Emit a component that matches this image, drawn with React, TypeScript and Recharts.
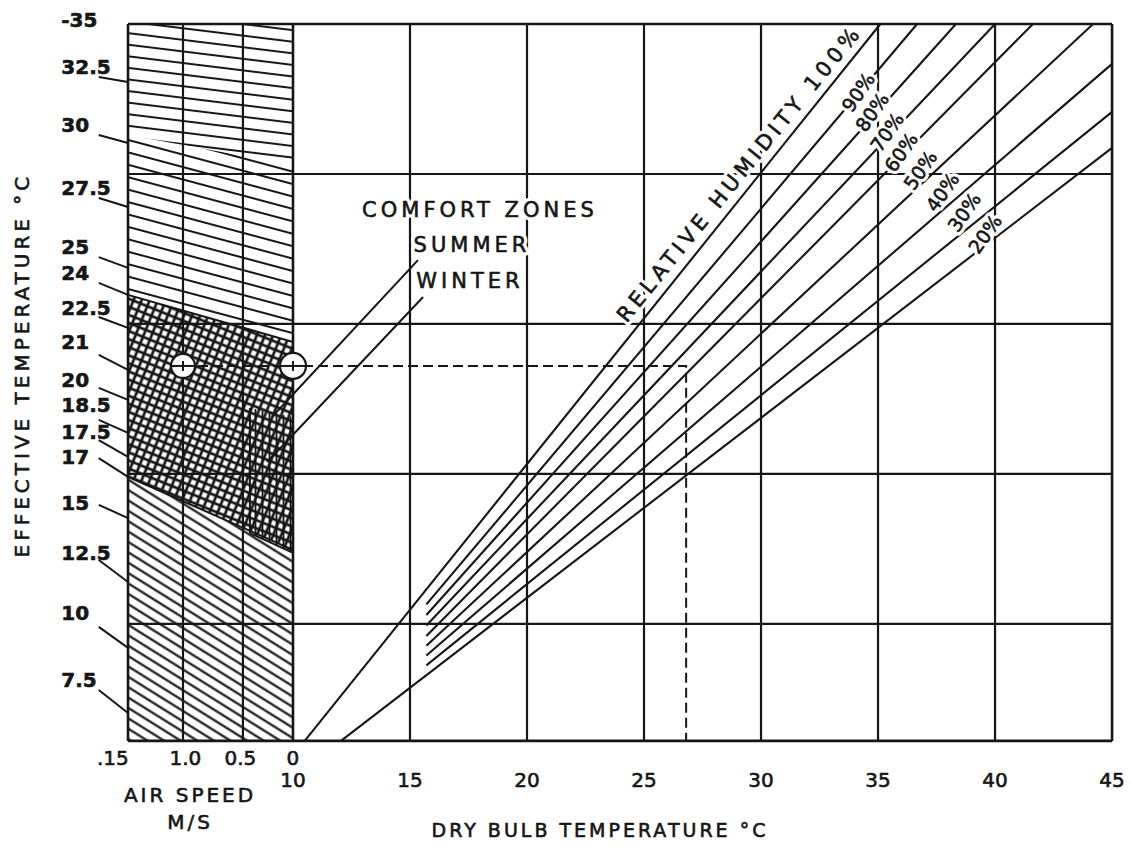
import React from 'react';
import {
  ComposedChart,
  XAxis,
  YAxis,
  Line,
  Area,
  Scatter,
  ReferenceLine,
  ReferenceDot,
} from 'recharts';

const WIDTH = 1131;
const HEIGHT = 848;
const INK = '#161616';
const FONT = '"DejaVu Sans", "Noto Sans", sans-serif';

// x runs in dry bulb °C (the air speed panel is laid on 2.95..10),
// y runs in effective temperature °C (still air). The plot fills the whole picture.
const X_DOMAIN: [number, number] = [-2.52, 45.81];
const Y_DOMAIN: [number, number] = [7.53, 35.8];

const ET_TOP = 35;
const ET_BOTTOM = 11.1;
const DB_MAX = 45;

// air speed panel
const PANEL_EDGES = [2.95, 10]; // 1.5 m/s and 0 m/s
const AIR_SPEED_GRID = [5.3, 7.86]; // 1.0 and 0.5 m/s
const AIR_SPEED_LABELS = ['.15', '1.0', '0.5', '0'];
const AIR_SPEED_LABEL_X = [2.3, 5.4, 7.75, 10];

// dry bulb panel
const DB_GRID = [15, 20, 25, 30, 35, 40];
const DB_TICKS = [10, 15, 20, 25, 30, 35, 40, 45];
const ET_GRID = [30, 25, 20, 15];

// effective temperature scale on the left, with leader lines to the panel edge
const ET_LABELS = ['-35', '32.5', '30', '27.5', '25', '24', '22.5', '21', '20', '18.5', '17.5', '17', '15', '12.5', '10', '7.5'];
const ET_LABEL_Y = [35.13, 33.57, 31.63, 29.53, 27.57, 26.7, 25.53, 24.4, 23.13, 22.3, 21.4, 20.57, 19.03, 17.37, 15.37, 13.13];
const LEADER_FROM_Y = [null, 33.23, 31.3, 29.2, 27.23, 26.37, 25.23, 23.97, 22.87, 21.8, 21.13, 20.53, 18.97, 17.13, 14.9, 12.8];
const LEADER_TO_Y = [null, 33.07, 31.03, 28.9, 26.87, 25.97, 24.87, 23.47, 22.47, 21.37, 20.57, 19.9, 18.53, 16.4, 14.2, 12.03];
const LEADER_FROM_X = 1.7;

// hatched zones of the air speed panel (values at the left and right panel edges)
const UPPER_SPLIT = [31.3, 30.3];
const SUMMER_TOP = [25.97, 24.4];
const SUMMER_BOTTOM = [19.9, 17.47];
const WINTER_EDGES = [8.16, 10];
const WINTER_TOP = [22.2, 21.9];
const WINTER_BOTTOM = [18.03, 17.37];

// relative humidity lines
const RH_LABELS = ['100%', '90%', '80%', '70%', '60%', '50%', '40%', '30%', '20%'];
const RH_START_DB = [10.5, 15.7, 15.7, 15.7, 15.7, 15.7, 15.7, 15.7, 12.05];
const RH_START_ET = [11.1, 15.65, 15.3, 14.95, 14.6, 14.27, 13.95, 13.62, 11.1];
const RH_END_DB = [35.1, 36.67, 38.33, 40.0, 41.62, 44.19, 45, 45, 45];
const RH_END_ET = [35, 35, 35, 35, 35, 35, 33.67, 32.07, 30.87];
const RH_LABEL_DB = [null, 34.15, 34.74, 35.38, 35.98, 36.8, 37.74, 38.68, 39.57];
const RH_LABEL_ET = [null, 32.73, 32.07, 31.4, 30.73, 30.13, 29.4, 28.73, 28.0];

// worked example
const EXAMPLE_ET = 23.6;
const EXAMPLE_SPEED_X = 5.3;
const EXAMPLE_DB = 26.8;

const SUMMER_LEADER = [{ x: 9.1, y: 21.9 }, { x: 15.34, y: 27.13 }];
const WINTER_LEADER = [{ x: 8.9, y: 20.4 }, { x: 15.56, y: 25.9 }];

const NOTES_ZONES = [
  { x: 17.99, y: 28.8, label: 'COMFORT ZONES' },
  { x: 17.65, y: 27.63, label: 'SUMMER' },
  { x: 17.56, y: 26.43, label: 'WINTER' },
];
const RH_TITLE = [{ x: 29.08, y: 30.02, label: 'RELATIVE HUMIDITY 100%' }];
const AIR_SPEED_TITLE = [
  { x: 5.6, y: 9.3, label: 'AIR SPEED' },
  { x: 5.6, y: 8.4, label: 'M/S' },
];
const DB_TITLE = [{ x: 23.12, y: 8.13, label: 'DRY BULB TEMPERATURE °C' }];
const ET_TITLE = [{ x: -1.58, y: 23.63, label: 'EFFECTIVE  TEMPERATURE  °C' }];
const AIR_SPEED_TICK_Y = 10.53;
const DB_TICK_Y = 9.8;

const seg = (x1: number, y1: number, x2: number, y2: number) => [
  { x: x1, y: y1 },
  { x: x2, y: y2 },
];

const band = (lo: number[], hi: number[], xs: number[] = PANEL_EDGES) =>
  xs.map((x, i) => ({ x, r: [lo[i], hi[i]] }));

interface TextOpts {
  size: number;
  weight?: string | number;
  anchor?: string;
  rotate?: number;
  spacing?: number;
  halo?: boolean;
}

// scanned lettering is heavy, so the glyphs get a thin ink outline
function textShape(o: TextOpts) {
  return (p: any) => {
    const { cx, cy, payload } = p;
    const common = {
      x: cx,
      y: cy,
      fontSize: o.size,
      fontWeight: o.weight ?? 'normal',
      fontFamily: FONT,
      textAnchor: o.anchor ?? 'middle',
      dominantBaseline: 'central',
      letterSpacing: o.spacing ?? 0,
      transform: o.rotate ? `rotate(${o.rotate} ${cx} ${cy})` : undefined,
      strokeLinejoin: 'round' as const,
    };
    return (
      <g>
        {o.halo && (
          <text {...(common as any)} fill="#fff" stroke="#fff" strokeWidth={7}>
            {payload.label}
          </text>
        )}
        <text {...(common as any)} fill={INK} stroke={INK} strokeWidth={0.6}>
          {payload.label}
        </text>
      </g>
    );
  };
}

const ringShape = (p: any) => (
  <g>
    <circle cx={p.cx} cy={p.cy} r={p.r} fill="#fff" stroke={INK} strokeWidth={2.2} />
    <line x1={p.cx - p.r} y1={p.cy} x2={p.cx + p.r} y2={p.cy} stroke={INK} strokeWidth={2} />
    <line x1={p.cx} y1={p.cy - 5} x2={p.cx} y2={p.cy + 5} stroke={INK} strokeWidth={2} />
  </g>
);

export default function App() {
  const etLabelData = ET_LABELS.map((label, i) => ({ x: 0.1, y: ET_LABEL_Y[i], label }));
  const speedTickData = AIR_SPEED_LABELS.map((label, i) => ({ x: AIR_SPEED_LABEL_X[i], y: AIR_SPEED_TICK_Y, label }));
  const dbTickData = DB_TICKS.map((t) => ({ x: t, y: DB_TICK_Y, label: String(t) }));
  const rhLabelData = RH_LABELS.map((label, i) => ({ x: RH_LABEL_DB[i], y: RH_LABEL_ET[i], label })).filter(
    (d) => d.x !== null
  );

  const gridStyle = { stroke: INK, strokeWidth: 2.2, ifOverflow: 'visible' as const };

  return (
    <div style={{ position: 'absolute', left: 0, top: 0, width: WIDTH, height: HEIGHT, background: '#fff' }}>
      <ComposedChart width={WIDTH} height={HEIGHT} margin={{ top: 0, right: 0, bottom: 0, left: 0 }}>
        <defs>
          <pattern id="etTop" patternUnits="userSpaceOnUse" width={24} height={11.5} patternTransform="rotate(7)">
            <line x1={0} y1={5.75} x2={24} y2={5.75} stroke={INK} strokeWidth={2} />
          </pattern>
          <pattern id="etMid" patternUnits="userSpaceOnUse" width={24} height={12} patternTransform="rotate(15)">
            <line x1={0} y1={6} x2={24} y2={6} stroke={INK} strokeWidth={2} />
          </pattern>
          <pattern id="etLow" patternUnits="userSpaceOnUse" width={24} height={8.8} patternTransform="rotate(32)">
            <line x1={0} y1={4.4} x2={24} y2={4.4} stroke={INK} strokeWidth={2.2} />
          </pattern>
          <pattern id="summer" patternUnits="userSpaceOnUse" width={7.5} height={7.5} patternTransform="rotate(22)">
            <line x1={0} y1={3.75} x2={7.5} y2={3.75} stroke={INK} strokeWidth={2.7} />
            <line x1={3.75} y1={0} x2={3.75} y2={7.5} stroke={INK} strokeWidth={2.7} />
          </pattern>
          <pattern id="winter" patternUnits="userSpaceOnUse" width={7} height={10}>
            <line x1={3.5} y1={0} x2={3.5} y2={10} stroke={INK} strokeWidth={1.8} />
          </pattern>
        </defs>

        <XAxis hide type="number" dataKey="x" domain={X_DOMAIN} allowDataOverflow />
        <YAxis hide type="number" dataKey="y" domain={Y_DOMAIN} allowDataOverflow />

        {/* hatching of the air speed panel */}
        <Area data={band(UPPER_SPLIT, [ET_TOP, ET_TOP])} dataKey="r" type="linear" stroke="none" fill="url(#etTop)" fillOpacity={1} isAnimationActive={false} />
        <Area data={band(SUMMER_TOP, UPPER_SPLIT)} dataKey="r" type="linear" stroke="none" fill="url(#etMid)" fillOpacity={1} isAnimationActive={false} />
        <Area data={band(SUMMER_BOTTOM, SUMMER_TOP)} dataKey="r" type="linear" stroke="none" fill="url(#summer)" fillOpacity={1} isAnimationActive={false} />
        <Area data={band([ET_BOTTOM, ET_BOTTOM], SUMMER_BOTTOM)} dataKey="r" type="linear" stroke="none" fill="url(#etLow)" fillOpacity={1} isAnimationActive={false} />
        <Area data={band(WINTER_BOTTOM, WINTER_TOP, WINTER_EDGES)} dataKey="r" type="linear" stroke="none" fill="url(#winter)" fillOpacity={1} isAnimationActive={false} />

        {/* zone outlines */}
        <Line data={seg(PANEL_EDGES[0], SUMMER_TOP[0], PANEL_EDGES[1], SUMMER_TOP[1])} dataKey="y" stroke={INK} strokeWidth={2} dot={false} isAnimationActive={false} />
        <Line data={seg(PANEL_EDGES[0], SUMMER_BOTTOM[0], PANEL_EDGES[1], SUMMER_BOTTOM[1])} dataKey="y" stroke={INK} strokeWidth={2} dot={false} isAnimationActive={false} />
        <Line data={seg(WINTER_EDGES[0], WINTER_TOP[0], WINTER_EDGES[0], WINTER_BOTTOM[0])} dataKey="y" stroke={INK} strokeWidth={2} dot={false} isAnimationActive={false} />
        <Line data={seg(WINTER_EDGES[0], WINTER_BOTTOM[0], WINTER_EDGES[1], WINTER_BOTTOM[1])} dataKey="y" stroke={INK} strokeWidth={2} dot={false} isAnimationActive={false} />

        {/* grid and frame */}
        {ET_GRID.map((v) => (
          <ReferenceLine key={`h${v}`} segment={seg(PANEL_EDGES[0], v, DB_MAX, v)} {...gridStyle} />
        ))}
        {[...AIR_SPEED_GRID, ...DB_GRID].map((v) => (
          <ReferenceLine key={`v${v}`} segment={seg(v, ET_BOTTOM, v, ET_TOP)} {...gridStyle} />
        ))}
        <ReferenceLine segment={seg(PANEL_EDGES[0], ET_TOP, DB_MAX, ET_TOP)} {...gridStyle} strokeWidth={2.6} />
        <ReferenceLine segment={seg(PANEL_EDGES[0], ET_BOTTOM, DB_MAX, ET_BOTTOM)} {...gridStyle} strokeWidth={2.6} />
        <ReferenceLine segment={seg(PANEL_EDGES[0], ET_BOTTOM, PANEL_EDGES[0], ET_TOP)} {...gridStyle} strokeWidth={2.6} />
        <ReferenceLine segment={seg(PANEL_EDGES[1], ET_BOTTOM, PANEL_EDGES[1], ET_TOP)} {...gridStyle} strokeWidth={2.6} />
        <ReferenceLine segment={seg(DB_MAX, ET_BOTTOM, DB_MAX, ET_TOP)} {...gridStyle} strokeWidth={2.6} />

        {/* leader lines of the ET scale */}
        {ET_LABELS.map((l, i) =>
          LEADER_FROM_Y[i] === null ? null : (
            <ReferenceLine
              key={`ld${l}`}
              segment={seg(LEADER_FROM_X, LEADER_FROM_Y[i] as number, PANEL_EDGES[0], LEADER_TO_Y[i] as number)}
              stroke={INK}
              strokeWidth={2}
              ifOverflow="visible"
            />
          )
        )}

        {/* relative humidity lines */}
        {RH_LABELS.map((l, i) => (
          <Line
            key={`rh${l}`}
            data={seg(RH_START_DB[i], RH_START_ET[i], RH_END_DB[i], RH_END_ET[i])}
            dataKey="y"
            stroke={INK}
            strokeWidth={2.1}
            dot={false}
            isAnimationActive={false}
          />
        ))}

        {/* comfort zone pointers */}
        <Line data={SUMMER_LEADER} dataKey="y" stroke={INK} strokeWidth={2} dot={false} isAnimationActive={false} />
        <Line data={WINTER_LEADER} dataKey="y" stroke={INK} strokeWidth={2} dot={false} isAnimationActive={false} />

        {/* worked example */}
        <Line
          data={[
            { x: EXAMPLE_SPEED_X, y: EXAMPLE_ET },
            { x: EXAMPLE_DB, y: EXAMPLE_ET },
            { x: EXAMPLE_DB, y: ET_BOTTOM },
          ]}
          dataKey="y"
          stroke={INK}
          strokeWidth={2}
          strokeDasharray="10 5"
          dot={false}
          isAnimationActive={false}
        />
        <ReferenceDot x={EXAMPLE_SPEED_X} y={EXAMPLE_ET} r={12} shape={ringShape} ifOverflow="visible" />
        <ReferenceDot x={PANEL_EDGES[1]} y={EXAMPLE_ET} r={13} shape={ringShape} ifOverflow="visible" />

        {/* texts */}
        <Scatter data={etLabelData} shape={textShape({ size: 20, weight: 'bold', anchor: 'start' })} isAnimationActive={false} />
        <Scatter data={speedTickData} shape={textShape({ size: 20 })} isAnimationActive={false} />
        <Scatter data={dbTickData} shape={textShape({ size: 20 })} isAnimationActive={false} />
        <Scatter data={AIR_SPEED_TITLE} shape={textShape({ size: 20, spacing: 3 })} isAnimationActive={false} />
        <Scatter data={DB_TITLE} shape={textShape({ size: 19, spacing: 3 })} isAnimationActive={false} />
        <Scatter data={ET_TITLE} shape={textShape({ size: 20, spacing: 4, rotate: -90 })} isAnimationActive={false} />
        <Scatter data={NOTES_ZONES} shape={textShape({ size: 21, spacing: 4, halo: true })} isAnimationActive={false} />
        <Scatter data={RH_TITLE} shape={textShape({ size: 21, spacing: 4.5, rotate: -51, halo: true })} isAnimationActive={false} />
        <Scatter data={rhLabelData} shape={textShape({ size: 19, rotate: -55, halo: true })} isAnimationActive={false} />
      </ComposedChart>
    </div>
  );
}
